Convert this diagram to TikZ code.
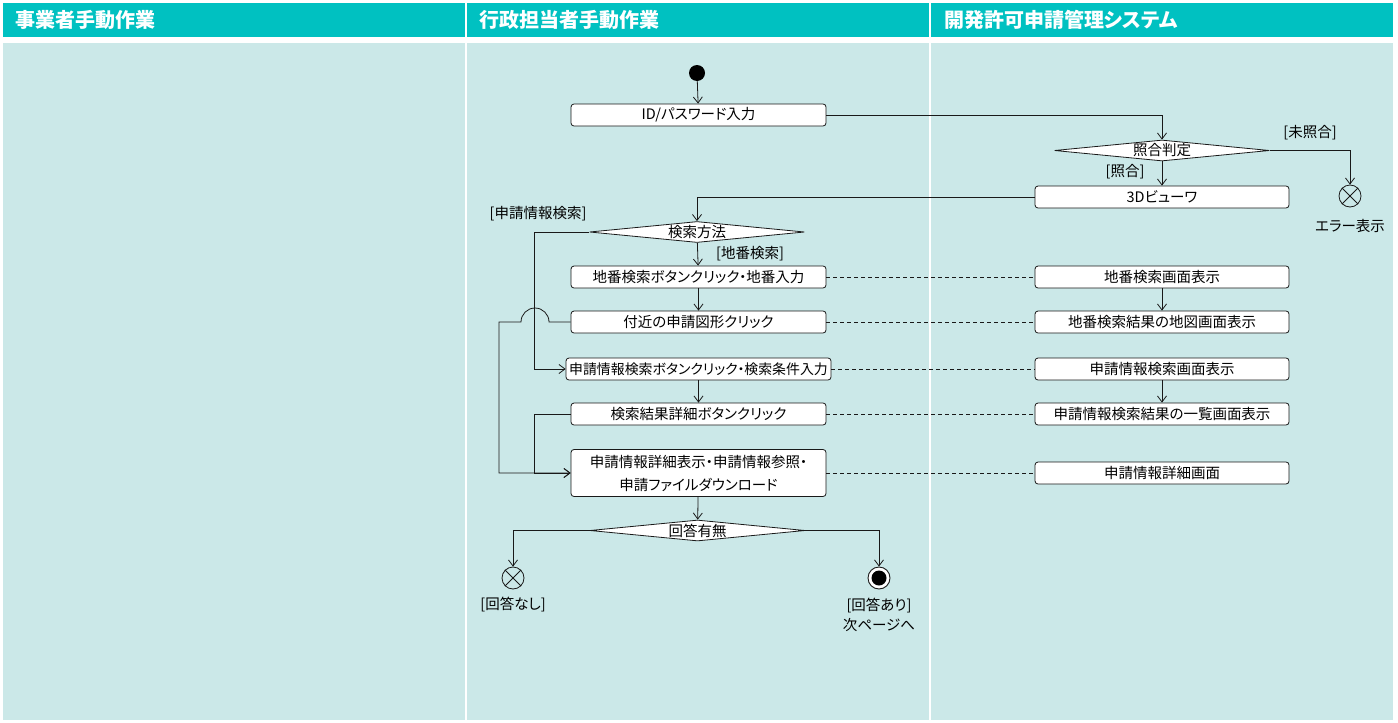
\documentclass[tikz,border=0pt]{standalone}
\usepackage{fontspec}
\setmainfont{Noto Sans CJK JP}[RawFeature=+palt]
\usetikzlibrary{shapes.geometric,arrows.meta}

\definecolor{hdr}{RGB}{0,193,193}
\definecolor{lane}{RGB}{203,232,232}
\definecolor{ink}{RGB}{25,25,25}

\tikzset{
  hdrtext/.style={anchor=west, text=white, font=\fontsize{20}{22}\selectfont\bfseries, inner sep=0pt},
  act/.style={draw=ink, fill=white, rounded corners=3pt, line width=0.8pt,
              minimum height=22, inner xsep=1pt, inner ysep=0pt,
              font=\fontsize{14.5}{23}\selectfont},
  dec/.style={diamond, aspect=10, draw=ink, fill=white, line width=0.8pt,
              inner sep=0pt, minimum width=215, minimum height=21,
              font=\fontsize{14.5}{17}\selectfont},
  lbl/.style={inner sep=0pt, font=\fontsize{14.5}{20}\selectfont},
  startdot/.style={circle, fill=black, minimum size=16, inner sep=0pt},
  xend/.style={circle, draw=ink, line width=0.8pt, fill=lane, minimum size=22, inner sep=0pt},
  finring/.style={circle, draw=ink, line width=0.9pt, fill=white, minimum size=22, inner sep=0pt},
  fincore/.style={circle, fill=black, minimum size=15, inner sep=0pt},
  flow/.style={draw=ink, line width=0.8pt, -{Straight Barb[length=6pt,width=9pt]}},
  plain/.style={draw=ink, line width=0.8pt},
  trace/.style={draw=ink, line width=0.8pt, dash pattern=on 4pt off 3pt},
}

\begin{document}
\begin{tikzpicture}[x=1pt, y=-1pt]
  % page and swimlanes
  \fill[white] (0,0) rectangle (1398,723);
  \useasboundingbox (0,0) rectangle (1398,723);
  \fill[hdr] (3,3) rectangle (464.5,37);
  \fill[hdr] (467,3) rectangle (928.5,37);
  \fill[hdr] (931,3) rectangle (1393,37);
  \fill[lane] (3,43) rectangle (464.5,720);
  \fill[lane] (467,43) rectangle (928.5,720);
  \fill[lane] (931,43) rectangle (1393,720);
  \node[hdrtext] (h1) at (15,20) {事業者手動作業};
  \node[hdrtext] (h2) at (479,20) {行政担当者手動作業};
  \node[hdrtext] (h3) at (944,20) {開発許可申請管理システム};

  % login and verification
  \node[startdot] (start) at (697,73) {};
  \node[act, minimum width=255] (idin) at (698.5,115) {ID/パスワード入力};
  \node[dec] (chk) at (1162,150.5) {照合判定};
  \node[act, minimum width=254] (v3d) at (1162,197) {3Dビューワ};
  \node[xend] (err) at (1350,196) {};
  \draw[plain] (err.45) -- (err.225) (err.135) -- (err.315);
  \node[lbl] (lunm) at (1310,133) {[未照合]};
  \node[lbl] (lerr) at (1350,226) {エラー表示};
  \node[lbl] (lmat) at (1125,172) {[照合]};

  % search branch
  \node[dec] (meth) at (697,232) {検索方法};
  \node[lbl] (lapp) at (538,214) {[申請情報検索]};
  \node[lbl] (llot) at (750,254) {[地番検索]};
  \node[act, minimum width=255] (a1) at (698.5,277) {地番検索ボタンクリック・地番入力};
  \node[act, minimum width=255] (a2) at (698.5,322) {付近の申請図形クリック};
  \node[act, minimum width=265, font=\fontsize{13.9}{20}\selectfont] (a3) at (698.5,369) {申請情報検索ボタンクリック・検索条件入力};
  \node[act, minimum width=255] (a4) at (698.5,414) {検索結果詳細ボタンクリック};
  \node[act, minimum width=255, minimum height=47, align=center] (a5) at (698.5,473)
       {申請情報詳細表示・申請情報参照・\\申請ファイルダウンロード};
  \node[dec] (ans) at (697.5,530.5) {回答有無};
  \node[xend] (none) at (513,578) {};
  \draw[plain] (none.45) -- (none.225) (none.135) -- (none.315);
  \node[lbl] (lnone) at (513,605) {[回答なし]};
  \node[finring] (fin) at (879,578) {};
  \node[fincore] (fincore) at (fin) {};
  \node[lbl, align=center] (lfin) at (879,615) {[回答あり]\\次ページへ};

  % system screens
  \node[act, minimum width=254] (s1) at (1162,277) {地番検索画面表示};
  \node[act, minimum width=254] (s2) at (1162,322) {地番検索結果の地図画面表示};
  \node[act, minimum width=254] (s3) at (1162,369) {申請情報検索画面表示};
  \node[act, minimum width=254] (s4) at (1162,414) {申請情報検索結果の一覧画面表示};
  \node[act, minimum width=254] (s5) at (1162,473) {申請情報詳細画面};

  % control flow
  \draw[flow] (start) -- (idin);
  \draw[flow] (idin.east) -| (chk.north);
  \draw[flow] (chk.east) -| (err.north);
  \draw[flow] (chk) -- (v3d);
  \draw[flow] (v3d.west) -| (meth.north);
  \draw[flow] (meth) -- (a1);
  \draw[flow] (a1) -- (a2);
  \draw[flow] (meth.west) -- ++(-55,0) |- (a3.west);
  \draw[flow] (a2.west) -- (549,322) arc[start angle=0, end angle=180, radius=14pt]
              -- (499,322) |- (a5.west);
  \draw[flow] (a3) -- (a4);
  \draw[flow] (a4.west) -- ++(-36,0) |- (a5.west);
  \draw[flow] (a5) -- (ans);
  \draw[flow] (ans.west) -| (none.north);
  \draw[flow] (ans.east) -| (fin.north);
  \draw[flow] (s1) -- (s2);
  \draw[flow] (s3) -- (s4);

  % screen correspondences
  \draw[trace] (a1.east) -- (s1.west);
  \draw[trace] (a2.east) -- (s2.west);
  \draw[trace] (a3.east) -- (s3.west);
  \draw[trace] (a4.east) -- (s4.west);
  \draw[trace] (a5.east) -- (s5.west);
\end{tikzpicture}
\end{document}
